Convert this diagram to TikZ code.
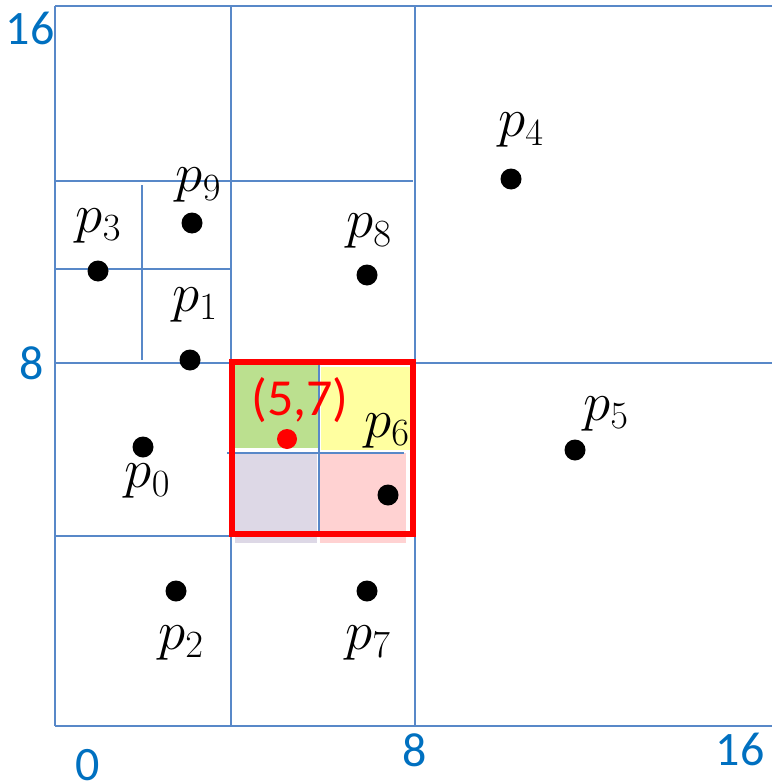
\RequirePackage{fix-cm}
\documentclass[tikz,border=0pt]{standalone}
\usepackage{fontspec}
\setmainfont{Carlito}
\definecolor{gridblue}{RGB}{88,136,200}
\definecolor{axisblue}{RGB}{0,112,192}
\definecolor{qgreen}{RGB}{187,224,143}
\definecolor{qyellow}{RGB}{255,255,160}
\definecolor{qlav}{RGB}{221,216,230}
\definecolor{qpink}{RGB}{255,210,210}
\tikzset{
  gridline/.style={draw=gridblue, line width=1.6pt},
  dot/.style={circle, fill=black, minimum size=21pt, inner sep=0pt},
  reddot/.style={circle, fill=red, minimum size=20pt, inner sep=0pt},
  plabel/.style={inner sep=0pt, font=\fontsize{55}{60}\selectfont},
  axislabel/.style={inner sep=0pt, text=axisblue, font=\fontsize{48}{52}\selectfont},
  querybox/.style={draw=red, line width=6pt},
}
\begin{document}
\begin{tikzpicture}[x=1pt, y=-1pt]
\useasboundingbox (0,0) rectangle (772,781);
% quadrant fills
\fill[qgreen] (235,365) rectangle (319,448);
\fill[qyellow] (321,367) rectangle (411,450);
\fill[qlav] (235,453) rectangle (317,543);
\fill[qpink] (320,453) rectangle (406,543);
% grid lines
\draw[gridline] (55,6) -- (772,6);
\draw[gridline] (55,6) -- (55,726);
\draw[gridline] (55,726) -- (772,726);
\draw[gridline] (415,6) -- (415,726);
\draw[gridline] (231,6) -- (231,726);
\draw[gridline] (55,363) -- (772,363);
\draw[gridline] (55,181) -- (413,181);
\draw[gridline] (55,536) -- (231,536);
\draw[gridline] (142,185) -- (142,360);
\draw[gridline] (55,269) -- (231,269);
\draw[gridline] (319,363) -- (319,533);
\draw[gridline] (227,453) -- (404,453);
% query box
\draw[querybox] (232,362) rectangle (413,534);
% points
\node[dot] (d9) at (192,223) {};
\node[dot] (d3) at (98,271) {};
\node[dot] (d1) at (190,360) {};
\node[dot] (d8) at (367,275) {};
\node[dot] (d4) at (511,179) {};
\node[dot] (d5) at (575,450) {};
\node[dot] (d6) at (388,495) {};
\node[dot] (d0) at (143,447) {};
\node[dot] (d2) at (176,591) {};
\node[dot] (d7) at (367,591) {};
\node[reddot] (q) at (287,439) {};
% point labels
\node[plabel] (l9) at (198.5,185.5) {$p_9$};
\node[plabel] (l3) at (98.5,226) {$p_3$};
\node[plabel] (l1) at (195,305) {$p_1$};
\node[plabel] (l8) at (369,231.5) {$p_8$};
\node[plabel] (l4) at (521,130.5) {$p_4$};
\node[plabel] (l5) at (606,414) {$p_5$};
\node[plabel] (l6) at (387,431) {$p_6$};
\node[plabel] (l0) at (147.5,481.5) {$p_0$};
\node[plabel] (l2) at (181,642.5) {$p_2$};
\node[plabel] (l7) at (368,642.5) {$p_7$};
\node[inner sep=0pt, text=red, font=\fontsize{52}{56}\selectfont] (ql) at (300,400) {(5,7)};
% axis labels
\node[axislabel] (y16) at (30,28) {16};
\node[axislabel] (y8) at (32,363) {8};
\node[axislabel] (x0) at (88,765) {0};
\node[axislabel] (x8) at (415,750) {8};
\node[axislabel] (x16) at (740,749) {16};
\end{tikzpicture}
\end{document}
